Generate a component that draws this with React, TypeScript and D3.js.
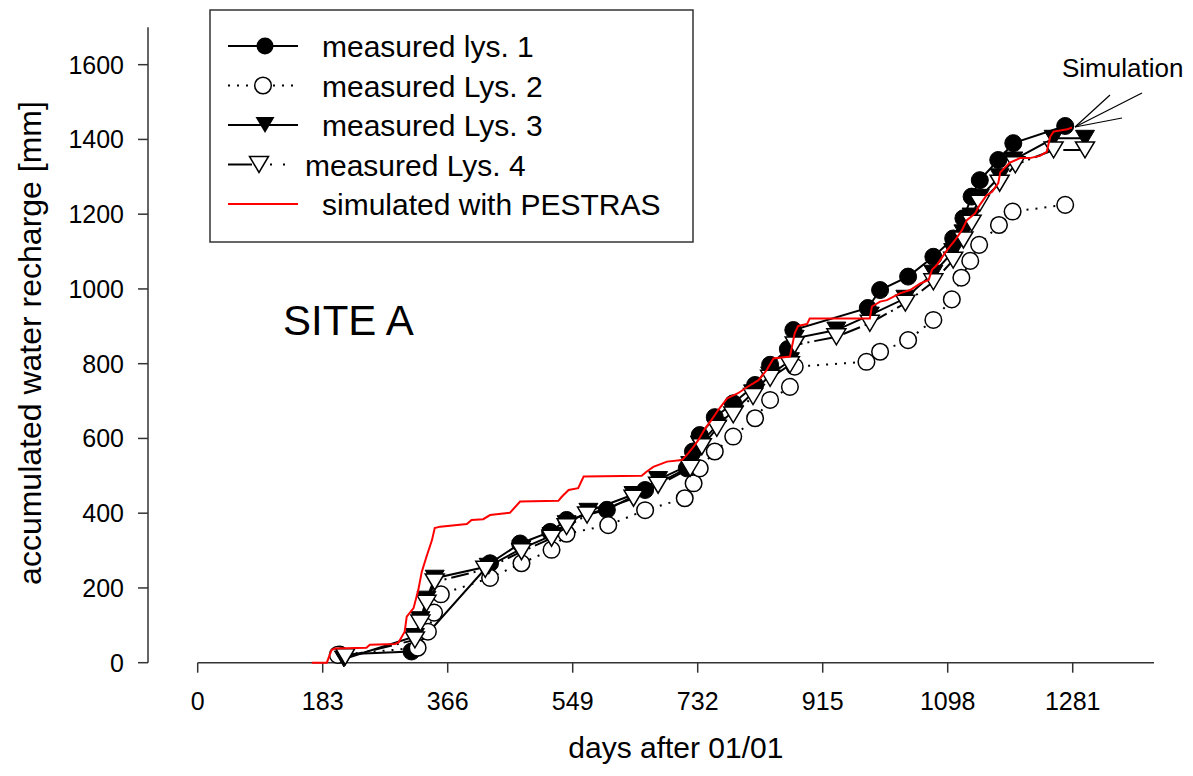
import React from 'react';
import * as d3 from 'd3';

const xTicks = [0, 183, 366, 549, 732, 915, 1098, 1281];
const yTicks = [0, 200, 400, 600, 800, 1000, 1200, 1400, 1600];

const lys1Days = [208, 313, 428, 472, 516, 540, 599, 655, 716, 725, 735, 757, 784, 816, 838, 864, 872, 981, 999, 1040, 1077, 1106, 1121, 1133, 1145, 1172, 1194, 1270];
const lys1Values = [22, 30, 266, 319, 350, 382, 409, 462, 520, 565, 609, 657, 694, 743, 797, 839, 890, 949, 997, 1033, 1086, 1135, 1189, 1247, 1291, 1345, 1390, 1436];

const lys2Days = [205, 322, 337, 346, 356, 428, 474, 518, 540, 601, 655, 713, 726, 735, 757, 784, 816, 838, 867, 874, 979, 999, 1040, 1077, 1104, 1118, 1131, 1144, 1173, 1193, 1270];
const lys2Values = [21, 40, 83, 134, 183, 227, 266, 302, 345, 368, 408, 440, 480, 520, 565, 605, 654, 703, 738, 792, 805, 832, 863, 917, 972, 1030, 1075, 1118, 1171, 1207, 1225];

const lys3Days = [214, 318, 326, 335, 347, 426, 474, 518, 540, 572, 638, 674, 721, 735, 760, 784, 813, 838, 867, 874, 935, 984, 1036, 1077, 1106, 1121, 1133, 1145, 1174, 1194, 1253, 1299];
const lys3Values = [10, 70, 115, 170, 226, 258, 305, 340, 372, 405, 450, 490, 530, 585, 635, 672, 722, 770, 808, 868, 890, 930, 975, 1042, 1100, 1150, 1195, 1245, 1300, 1345, 1403, 1403];

const lys4Days = [216, 318, 326, 335, 347, 421, 474, 518, 540, 570, 638, 674, 721, 738, 760, 784, 813, 838, 867, 874, 935, 984, 1036, 1077, 1106, 1121, 1133, 1145, 1174, 1197, 1253, 1299];
const lys4Values = [16, 61, 106, 159, 216, 250, 297, 333, 364, 395, 440, 475, 520, 578, 627, 663, 712, 761, 797, 850, 872, 908, 962, 1019, 1077, 1131, 1176, 1229, 1283, 1332, 1372, 1372];

const simDays = [167, 189, 196, 201, 247, 252, 289, 294, 303, 306, 316, 323, 328, 335, 343, 347, 355, 394, 401, 418, 428, 457, 472, 528, 533, 543, 557, 565, 650, 657, 667, 687, 709, 718, 726, 733, 743, 752, 762, 775, 791, 804, 821, 833, 843, 867, 874, 879, 892, 896, 984, 987, 999, 1009, 1028, 1043, 1058, 1070, 1075, 1082, 1097, 1109, 1119, 1126, 1138, 1145, 1155, 1163, 1172, 1175, 1189, 1204, 1218, 1233, 1243, 1248, 1253, 1273, 1280];
const simValues = [0, 0, 34, 38, 40, 48, 50, 54, 83, 123, 146, 195, 243, 284, 328, 360, 364, 371, 382, 384, 395, 401, 431, 433, 444, 462, 467, 498, 500, 511, 524, 538, 542, 560, 578, 596, 627, 649, 676, 707, 721, 737, 756, 783, 814, 819, 881, 901, 906, 921, 921, 953, 966, 970, 988, 997, 1015, 1024, 1051, 1064, 1104, 1131, 1158, 1184, 1202, 1225, 1251, 1260, 1283, 1312, 1338, 1350, 1350, 1356, 1367, 1407, 1421, 1427, 1432];

const legendLabels = ['measured lys. 1', 'measured Lys. 2', 'measured Lys. 3', 'measured Lys. 4', 'simulated with PESTRAS'];
const xTitle = 'days after 01/01';
const yTitle = 'accumulated water recharge [mm]';
const siteLabel = 'SITE A';
const simLabel = 'Simulation';

const FONT = '"Liberation Sans", Arial, Helvetica, sans-serif';

function zip(a: number[], b: number[]): [number, number][] {
  return a.map((d, i) => [d, b[i]]);
}

function triPath(cx: number, cy: number, w = 19, h = 16) {
  return `M${cx - w / 2},${cy - h / 2}L${cx + w / 2},${cy - h / 2}L${cx},${cy + h / 2}Z`;
}

export default function App() {
  const x = d3.scaleLinear().domain([0, 1400]).range([197.7, 1154]);
  const y = d3.scaleLinear().domain([0, 1700]).range([662.7, 27.3]);
  const line = d3.line<[number, number]>().x(d => x(d[0])).y(d => y(d[1]));

  const s1 = zip(lys1Days, lys1Values);
  const s2 = zip(lys2Days, lys2Values);
  const s3 = zip(lys3Days, lys3Values);
  const s4 = zip(lys4Days, lys4Values);
  const sim = zip(simDays, simValues);

  const axisColor = '#333';
  const legendY = (i: number) => 46 + 39.5 * i;

  return (
    <svg width={1193} height={776} style={{ position: 'absolute', left: 0, top: 0, background: '#fff' }} fontFamily={FONT}>
      <rect x={0} y={0} width={1193} height={776} fill="#fff" />
      {/* Y axis */}
      <line x1={148} x2={148} y1={y(0)} y2={y(1700)} stroke={axisColor} strokeWidth={1.5} />
      {yTicks.map(t => (
        <g key={'yt' + t}>
          <line x1={138} x2={148} y1={y(t)} y2={y(t)} stroke={axisColor} strokeWidth={1.5} />
          <text x={124} y={y(t) + 9} textAnchor="end" fontSize={25} fill="#000">{t}</text>
        </g>
      ))}
      {/* X axis */}
      <line x1={x(0)} x2={x(1400)} y1={662.7} y2={662.7} stroke={axisColor} strokeWidth={1.5} />
      {xTicks.map(t => (
        <g key={'xt' + t}>
          <line x1={x(t)} x2={x(t)} y1={662.7} y2={672.7} stroke={axisColor} strokeWidth={1.5} />
          <text x={x(t)} y={710} textAnchor="middle" fontSize={25} fill="#000">{t}</text>
        </g>
      ))}
      <text x={x(700)} y={758} textAnchor="middle" fontSize={30} fill="#000">{xTitle}</text>
      <text transform={`translate(41,343) rotate(-90)`} textAnchor="middle" fontSize={32} fill="#000">{yTitle}</text>

      {/* Lys 1 */}
      <path d={line(s1) || ''} fill="none" stroke="#000" strokeWidth={2} />
      {s1.map((d, i) => (
        <circle key={'c1' + i} cx={x(d[0])} cy={y(d[1])} r={8.5} fill="#000" stroke="#000" strokeWidth={1} />
      ))}
      {/* Lys 2 */}
      <path d={line(s2) || ''} fill="none" stroke="#000" strokeWidth={2} strokeDasharray="2,7" />
      {s2.map((d, i) => (
        <circle key={'c2' + i} cx={x(d[0])} cy={y(d[1])} r={8.3} fill="#fff" stroke="#000" strokeWidth={1.5} />
      ))}
      {/* Lys 3 */}
      <path d={line(s3) || ''} fill="none" stroke="#000" strokeWidth={2} />
      {s3.map((d, i) => (
        <path key={'t3' + i} d={triPath(x(d[0]), y(d[1]))} fill="#000" stroke="#000" strokeWidth={1} />
      ))}
      {/* Lys 4 */}
      <path d={line(s4) || ''} fill="none" stroke="#000" strokeWidth={2} strokeDasharray="18,5,2,5" />
      {s4.map((d, i) => (
        <path key={'t4' + i} d={triPath(x(d[0]), y(d[1]))} fill="#fff" stroke="#000" strokeWidth={1.5} />
      ))}
      {/* Simulation */}
      <path d={line(sim) || ''} fill="none" stroke="#ff0000" strokeWidth={2} />

      {/* Annotations */}
      <text x={283} y={335} fontSize={42} fill="#000">{siteLabel}</text>
      <text x={1062} y={77} fontSize={26} fill="#000">{simLabel}</text>
      <line x1={1075} y1={127} x2={1110} y2={95} stroke="#000" strokeWidth={1.2} />
      <line x1={1075} y1={127} x2={1142} y2={93} stroke="#000" strokeWidth={1.2} />
      <line x1={1075} y1={127} x2={1122} y2={118} stroke="#000" strokeWidth={1.2} />

      {/* Legend */}
      <rect x={210} y={10} width={483} height={232} fill="#fff" stroke="#333" strokeWidth={1.5} />
      {/* row 1 */}
      <line x1={228} x2={298} y1={legendY(0)} y2={legendY(0)} stroke="#000" strokeWidth={2} />
      <circle cx={265} cy={legendY(0)} r={8.5} fill="#000" />
      {/* row 2 */}
      <line x1={228} x2={298} y1={legendY(1)} y2={legendY(1)} stroke="#000" strokeWidth={2} strokeDasharray="2,7" />
      <circle cx={263} cy={legendY(1)} r={8.3} fill="#fff" stroke="#000" strokeWidth={1.5} />
      {/* row 3 */}
      <line x1={228} x2={298} y1={legendY(2)} y2={legendY(2)} stroke="#000" strokeWidth={2} />
      <path d={triPath(265, legendY(2))} fill="#000" />
      {/* row 4 */}
      <line x1={228} x2={252} y1={legendY(3)} y2={legendY(3)} stroke="#000" strokeWidth={2} />
      <line x1={270} x2={294} y1={legendY(3)} y2={legendY(3)} stroke="#000" strokeWidth={2} strokeDasharray="2,11" />
      <path d={triPath(259, legendY(3))} fill="#fff" stroke="#000" strokeWidth={1.5} />
      {/* row 5 */}
      <line x1={228} x2={298} y1={legendY(4)} y2={legendY(4)} stroke="#ff0000" strokeWidth={2} />
      {legendLabels.map((l, i) => (
        <text key={'lg' + i} x={i === 3 ? 305 : 322} y={legendY(i) + 11} fontSize={30} fill="#000">{l}</text>
      ))}
    </svg>
  );
}
